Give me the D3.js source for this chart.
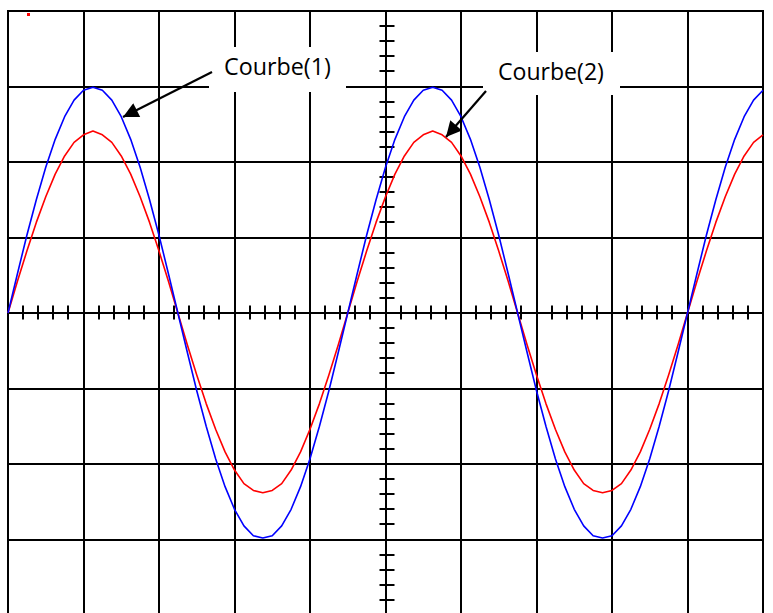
<!DOCTYPE html>
<html>
<head>
<meta charset="utf-8">
<script src="https://cdn.jsdelivr.net/npm/d3@7"></script>
<style>
  html, body { margin: 0; padding: 0; background: #ffffff; }
  svg { display: block; }
</style>
</head>
<body>
<svg id="chart" width="773" height="613"></svg>
<script>
// ---- Data (in screen divisions) ----
const xDivisions = [0, 1, 2, 3, 4, 5, 6, 7, 8, 9, 10];
const yDivisions = [-4, -3, -2, -1, 0, 1, 2, 3, 4];
const sampleStep = 0.125; // divisions between samples
// Courbe(1) - blue trace
const courbe1 = [
  0, 0.52, 1.03, 1.50, 1.93, 2.30, 2.60, 2.82, 2.95, 2.99, 2.95, 2.82, 2.60, 2.30, 1.93, 1.50, 1.03, 0.52,
  0, -0.52, -1.03, -1.50, -1.93, -2.30, -2.60, -2.82, -2.95, -2.98, -2.95, -2.82, -2.60, -2.30, -1.93, -1.50, -1.03, -0.52,
  0, 0.52, 1.03, 1.50, 1.93, 2.30, 2.60, 2.82, 2.95, 2.99, 2.95, 2.82, 2.60, 2.30, 1.93, 1.50, 1.03, 0.52,
  0, -0.52, -1.03, -1.50, -1.93, -2.30, -2.60, -2.82, -2.95, -2.98, -2.95, -2.82, -2.60, -2.30, -1.93, -1.50, -1.03, -0.52,
  0, 0.52, 1.03, 1.50, 1.93, 2.30, 2.60, 2.82, 2.95
];
// Courbe(2) - red trace
const courbe2 = [
  0, 0.42, 0.82, 1.20, 1.54, 1.84, 2.08, 2.26, 2.36, 2.41, 2.36, 2.26, 2.08, 1.84, 1.54, 1.20, 0.82, 0.42,
  0, -0.42, -0.82, -1.20, -1.54, -1.84, -2.08, -2.26, -2.35, -2.38, -2.35, -2.26, -2.08, -1.84, -1.54, -1.20, -0.82, -0.42,
  0, 0.42, 0.82, 1.20, 1.54, 1.84, 2.08, 2.26, 2.36, 2.41, 2.36, 2.26, 2.08, 1.84, 1.54, 1.20, 0.82, 0.42,
  0, -0.42, -0.82, -1.20, -1.54, -1.84, -2.08, -2.26, -2.35, -2.38, -2.35, -2.26, -2.08, -1.84, -1.54, -1.20, -0.82, -0.42,
  0, 0.42, 0.82, 1.20, 1.54, 1.84, 2.08, 2.26, 2.36
];
const labels = ["Courbe(1)", "Courbe(2)"];

// ---- Layout ----
const svg = d3.select("#chart");
const x = d3.scaleLinear().domain([0, 10]).range([8, 763]);
const y = d3.scaleLinear().domain([-4, 4]).range([615, 11]);
const px = v => Math.round(x(v));
const py = v => Math.round(y(v));

svg.append("rect").attr("width", 773).attr("height", 613).attr("fill", "#fff");

// Grid
const grid = svg.append("g").attr("stroke", "#000").attr("stroke-width", 2);
grid.selectAll("line.v").data(xDivisions).join("line").attr("class", "v")
  .attr("x1", d => px(d)).attr("x2", d => px(d))
  .attr("y1", y(4) - 1).attr("y2", 613);
grid.selectAll("line.h").data(yDivisions.filter(d => d > -4)).join("line").attr("class", "h")
  .attr("x1", x(0) - 1).attr("x2", x(10) + 1)
  .attr("y1", d => py(d)).attr("y2", d => py(d));

// Minor ticks on the central axes
const xMinor = d3.range(0, 10.001, 0.2).filter(v => Math.abs(v - Math.round(v)) > 1e-6);
const yMinor = d3.range(-4, 4.001, 0.2).filter(v => Math.abs(v - Math.round(v)) > 1e-6);
grid.selectAll("line.xt").data(xMinor).join("line").attr("class", "xt")
  .attr("x1", d => px(d)).attr("x2", d => px(d))
  .attr("y1", y(0) - 7.5).attr("y2", y(0) + 6.5);
grid.selectAll("line.yt").data(yMinor).join("line").attr("class", "yt")
  .attr("y1", d => py(d)).attr("y2", d => py(d))
  .attr("x1", x(5) - 6).attr("x2", x(5) + 9);

// stray red dot in corner
svg.append("rect").attr("x", 27).attr("y", 13).attr("width", 3).attr("height", 3).attr("fill", "#ff0000");

// Traces
const line = d3.line().x((d, i) => x(i * sampleStep)).y(d => y(d));
svg.append("path").datum(courbe2).attr("d", line)
  .attr("fill", "none").attr("stroke", "#ff0000").attr("stroke-width", 1.6).attr("stroke-linejoin", "round");
svg.append("path").datum(courbe1).attr("d", line)
  .attr("fill", "none").attr("stroke", "#0000ff").attr("stroke-width", 1.6).attr("stroke-linejoin", "round");

// Labels with white boxes
const labelBoxes = [
  { text: labels[0], box: [209, 47, 137, 45], tx: 224, ty: 75, width: 107, from: [212, 72], to: [123, 117] },
  { text: labels[1], box: [483, 52, 137, 43], tx: 498, ty: 80, width: 106, from: [486, 91], to: [446, 137] }
];
const defs = svg.append("defs");
defs.append("marker").attr("id", "ah").attr("viewBox", "0 0 10 10")
  .attr("refX", 10).attr("refY", 5).attr("markerWidth", 8).attr("markerHeight", 7)
  .attr("markerUnits", "strokeWidth").attr("orient", "auto")
  .append("path").attr("d", "M0,0 L10,5 L0,10 z").attr("fill", "#000");

labelBoxes.forEach(l => {
  svg.append("rect").attr("x", l.box[0]).attr("y", l.box[1]).attr("width", l.box[2]).attr("height", l.box[3]).attr("fill", "#fff");
  const t = svg.append("text").attr("x", l.tx).attr("y", l.ty)
    .attr("font-family", "'Open Sans', sans-serif").attr("font-size", 20).attr("fill", "#000").text(l.text);
  const w = t.node().getComputedTextLength();
  t.attr("font-size", 20 * l.width / w);
  svg.append("line").attr("x1", l.from[0]).attr("y1", l.from[1]).attr("x2", l.to[0]).attr("y2", l.to[1])
    .attr("stroke", "#000").attr("stroke-width", 2.2).attr("marker-end", "url(#ah)");
});
</script>
</body>
</html>
